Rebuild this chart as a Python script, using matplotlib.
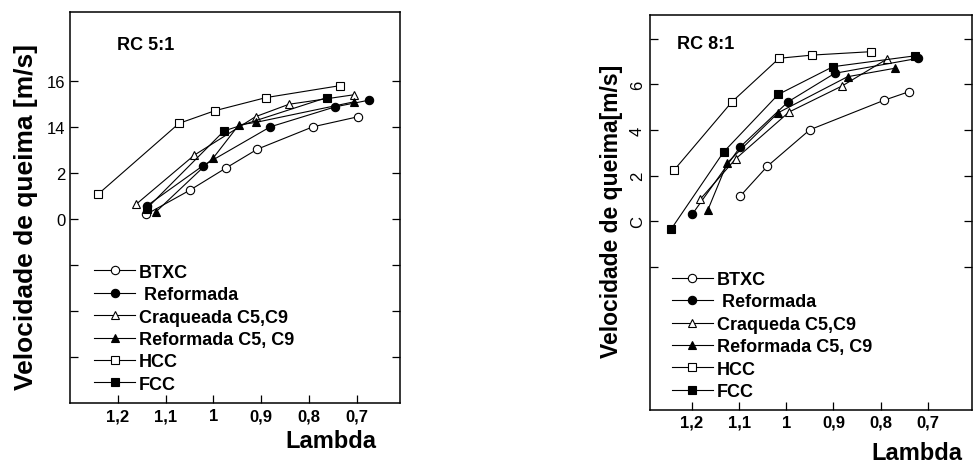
import matplotlib.pyplot as plt

plt.rcParams['font.family'] = ['Liberation Sans', 'DejaVu Sans']

# RC 5:1 (left panel)
l_btxc_x = [1.141, 1.049, 0.973, 0.908, 0.792, 0.697]
l_btxc_y = [10.2, 11.26, 12.23, 13.04, 14.01, 14.45]
l_ref_x = [1.139, 1.022, 0.881, 0.745, 0.674]
l_ref_y = [10.58, 12.32, 14.01, 14.88, 15.17]
l_craq_x = [1.162, 1.040, 0.912, 0.842, 0.707]
l_craq_y = [10.64, 12.78, 14.45, 14.99, 15.4]
l_refc_x = [1.120, 1.000, 0.947, 0.912, 0.705]
l_refc_y = [10.32, 12.67, 14.09, 14.2, 15.1]
l_hcc_x = [1.242, 1.072, 0.997, 0.890, 0.735]
l_hcc_y = [11.07, 14.16, 14.71, 15.28, 15.80]
l_fcc_x = [1.140, 0.978, 0.763]
l_fcc_y = [10.45, 13.83, 15.28]

# RC 8:1 (right panel)
r_btxc_x = [1.098, 1.040, 0.950, 0.792, 0.740]
r_btxc_y = [1.09, 2.41, 4.01, 5.31, 5.68]
r_ref_x = [1.199, 1.098, 0.996, 0.897, 0.720]
r_ref_y = [0.31, 3.25, 5.24, 6.49, 7.15]
r_craq_x = [1.182, 1.107, 0.994, 0.881, 0.786]
r_craq_y = [0.97, 2.74, 4.79, 5.94, 7.12]
r_refc_x = [1.166, 1.125, 1.017, 0.870, 0.770]
r_refc_y = [0.50, 2.56, 4.76, 6.34, 6.71]
r_hcc_x = [1.237, 1.115, 1.015, 0.945, 0.820]
r_hcc_y = [2.26, 5.24, 7.15, 7.29, 7.44]
r_fcc_x = [1.244, 1.133, 1.017, 0.901, 0.726]
r_fcc_y = [-0.35, 3.03, 5.56, 6.78, 7.26]

x_ticks = [1.2, 1.1, 1.0, 0.9, 0.8, 0.7]
x_labels = ['1,2', '1,1', '1', '0,9', '0,8', '0,7']
l_yticks = [4, 6, 8, 10, 12, 14, 16]
l_ylabels = ['', '', '', '0', '2', '14', '16']
r_yticks = [-2, 0, 2, 4, 6, 8]
r_ylabels = ['', 'C', '2', '4', '6', '']

styles = [('o', 'white'), ('o', 'black'), ('^', 'white'),
          ('^', 'black'), ('s', 'white'), ('s', 'black')]

fig = plt.figure(figsize=(9.73, 4.64), dpi=100)
ax1 = fig.add_axes([0.072, 0.129, 0.339, 0.843])
ax2 = fig.add_axes([0.668, 0.114, 0.331, 0.852])

left_series = [(l_btxc_x, l_btxc_y, 'BTXC'), (l_ref_x, l_ref_y, ' Reformada'),
               (l_craq_x, l_craq_y, 'Craqueada C5,C9'),
               (l_refc_x, l_refc_y, 'Reformada C5, C9'),
               (l_hcc_x, l_hcc_y, 'HCC'), (l_fcc_x, l_fcc_y, 'FCC')]
right_series = [(r_btxc_x, r_btxc_y, 'BTXC'), (r_ref_x, r_ref_y, ' Reformada'),
                (r_craq_x, r_craq_y, 'Craqueda C5,C9'),
                (r_refc_x, r_refc_y, 'Reformada C5, C9'),
                (r_hcc_x, r_hcc_y, 'HCC'), (r_fcc_x, r_fcc_y, 'FCC')]

for ax, series in [(ax1, left_series), (ax2, right_series)]:
    for (xs, ys, name), (m, fc) in zip(series, styles):
        ax.plot(xs, ys, color='black', lw=0.8, marker=m, ms=6,
                mfc=fc, mec='black', mew=0.8, label=name)
    ax.set_xticks(x_ticks)
    ax.set_xticklabels(x_labels, fontsize=12, fontweight='bold')
    ax.tick_params(direction='in', length=6, top=False, right=True, width=0.9)
    for s in ax.spines.values():
        s.set_linewidth(1.1)

ax1.legend(loc='upper left', bbox_to_anchor=(0.05, 0.375), frameon=False,
           handlelength=2.3, handletextpad=0.2, labelspacing=0.3,
           prop={'weight': 'bold', 'size': 13}, borderaxespad=0)
ax2.legend(loc='upper left', bbox_to_anchor=(0.045, 0.37), frameon=False,
           handlelength=2.3, handletextpad=0.2, labelspacing=0.3,
           prop={'weight': 'bold', 'size': 13}, borderaxespad=0)

ax1.set_xlim(1.30, 0.61)
ax1.set_ylim(2, 19)
ax1.set_yticks(l_yticks)
ax1.set_yticklabels(l_ylabels, fontsize=12)
ax1.text(0.142, 0.918, 'RC 5:1', transform=ax1.transAxes, fontsize=13,
         fontweight='bold', va='center')
ax1.set_ylabel('Velocidade de queima [m/s]', fontsize=19, fontweight='bold')
ax1.yaxis.set_label_coords(-0.097, 0.478)
ax1.set_xlabel('Lambda', fontsize=17, fontweight='bold')
ax1.xaxis.set_label_coords(0.79, -0.066)

ax2.set_xlim(1.289, 0.606)
ax2.set_ylim(-8.3, 9.06)
ax2.set_yticks(r_yticks)
ax2.set_yticklabels(r_ylabels, fontsize=12, rotation=90, va='center')
ax2.text(0.084, 0.927, 'RC 8:1', transform=ax2.transAxes, fontsize=13,
         fontweight='bold', va='center')
ax2.set_ylabel('Velocidade de queima[m/s]', fontsize=16.5, fontweight='bold')
ax2.yaxis.set_label_coords(-0.084, 0.506)
ax2.set_xlabel('Lambda', fontsize=17, fontweight='bold')
ax2.xaxis.set_label_coords(0.83, -0.079)

fig.savefig('out.png', dpi=100)
